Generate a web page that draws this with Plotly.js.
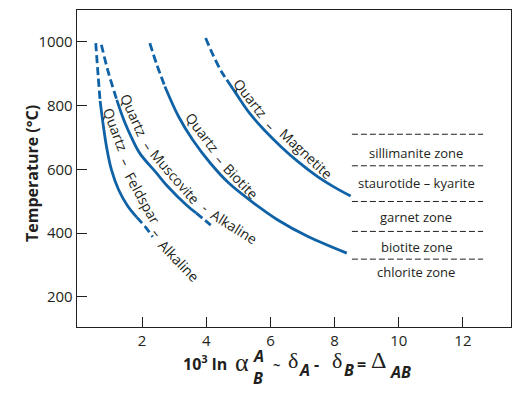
<!DOCTYPE html>
<html><head><meta charset="utf-8">
<script src="https://cdn.plot.ly/plotly-3.0.1.min.js"></script>
<style>html,body{margin:0;padding:0;background:#fff}#chart{width:525px;height:395px}</style>
</head><body><div id="chart"></div>
<script>
// ---- data ----
const feldsparX = [0.555, 0.627, 0.69, 0.78, 0.89, 1.045, 1.27, 1.55, 1.83, 2.10, 2.33];
const feldsparY = [996, 896, 815, 745, 671, 598, 535, 485, 450, 419, 388];
const feldsparSolid = [2, 8];

const muscoviteX = [0.73, 0.94, 1.21, 1.43, 1.66, 1.93, 2.45, 2.80, 3.38, 3.68, 3.91, 4.14];
const muscoviteY = [991, 907, 818, 755, 702, 650, 588, 546, 488, 463, 444, 425];
const muscoviteSolid = [2, 9];

const biotiteX = [2.24, 2.46, 2.71, 3.14, 3.58, 4.13, 4.71, 5.48, 6.23, 7.17, 8.38];
const biotiteY = [996, 928, 860, 765, 692, 619, 556, 494, 441, 389, 337];
const biotiteSolid = [2, 10];

const magnetiteX = [3.98, 4.21, 4.47, 4.64, 4.92, 5.35, 5.80, 6.33, 6.86, 7.47, 7.99, 8.50];
const magnetiteY = [1012, 959, 907, 881, 839, 776, 724, 671, 624, 577, 544, 516];
const magnetiteSolid = [3, 11];

const zoneBoundaries = [710, 611, 499, 405, 318];
const zoneLineX = [8.54, 12.63];
const zoneNames = ['sillimanite zone', 'staurotide – kyarite', 'garnet zone', 'biotite zone', 'chlorite zone'];
const zoneLabelY = [652, 556, 451, 357, 279];
const zoneLabelX = 10.55;

const xTicks = [2, 4, 6, 8, 10, 12];
const yTicks = [200, 400, 600, 800, 1000];

// ---- styling ----
const BLUE = '#0f62a6';
const INK = '#231f20';
const FONT = 'Open Sans, Noto Sans, sans-serif';
const SERIF = 'Liberation Serif, DejaVu Serif, serif';
const M = {l: 77, r: 14, t: 10, b: 68};
const W = 525, H = 395;
const PW = W - M.l - M.r, PH = H - M.t - M.b;
const px2x = px => (px - M.l) / PW;
const py2y = py => (H - M.b - py) / PH;

const traces = [];
function addCurve(X, Y, solid) {
  const seg = (a, b, dash) => {
    if (b <= a) return;
    traces.push({
      type: 'scatter', mode: 'lines',
      x: X.slice(a, b + 1), y: Y.slice(a, b + 1),
      line: {color: BLUE, width: 2.8, dash: dash, shape: 'spline', smoothing: 1},
      hoverinfo: 'skip', showlegend: false
    });
  };
  seg(0, solid[0], '8px,4px');
  if (solid[1] < X.length - 1) seg(solid[1], X.length - 1, '8px,4px');
  seg(solid[0], solid[1], 'solid');
}
addCurve(feldsparX, feldsparY, feldsparSolid);
addCurve(muscoviteX, muscoviteY, muscoviteSolid);
addCurve(biotiteX, biotiteY, biotiteSolid);
addCurve(magnetiteX, magnetiteY, magnetiteSolid);

zoneBoundaries.forEach(v => {
  traces.push({
    type: 'scatter', mode: 'lines', x: zoneLineX, y: [v, v],
    line: {color: INK, width: 1, dash: '6px,3px'}, hoverinfo: 'skip', showlegend: false
  });
});

const annotations = [];
zoneNames.forEach((n, i) => {
  annotations.push({x: zoneLabelX, y: zoneLabelY[i], xref: 'x', yref: 'y', text: n,
    showarrow: false, font: {family: FONT, size: 13, color: INK}, xanchor: 'center', yanchor: 'middle'});
});

// curve labels: [text, px, py, angle]
const curveLabels = [
  ['Quartz', 116, 129, 69], ['–', 126, 161, 65], ['Feldspar', 142.5, 197.5, 61], ['–', 157, 232, 52], ['Alkaline', 179, 260, 46],
  ['Quartz', 134.5, 115, 66], ['–', 148, 145.5, 58], ['Muscovite', 175, 176.5, 49], ['-', 206, 207, 40], ['Alkaline', 234, 226, 32],
  ['Quartz', 202.5, 132.5, 53], ['–', 220.5, 159, 49], ['Biotite', 241.5, 181, 46],
  ['Quartz', 250.8, 98.5, 52], ['–', 270.5, 125.5, 47], ['Magnetite', 306, 154, 43]
];
curveLabels.forEach(([t, px, py, a]) => {
  annotations.push({x: px2x(px), y: py2y(py), xref: 'paper', yref: 'paper', text: t, textangle: a,
    showarrow: false, font: {family: FONT, size: 14, color: INK}, xanchor: 'center', yanchor: 'middle'});
});

// y-axis title
annotations.push({x: px2x(32), y: py2y(174), xref: 'paper', yref: 'paper', text: '<b>Temperature (°C)</b>',
  textangle: -90, showarrow: false, font: {family: FONT, size: 16, color: INK}, xanchor: 'center', yanchor: 'middle'});

// x-axis title pieces: [text, px, py, size, family]
const xt = [
  ['<b>10<sup>3</sup> ln</b>', 205, 363, 16, FONT],
  ['α', 241.7, 362, 26, SERIF],
  ['<b><i>A</i></b>', 258.3, 356, 16, FONT],
  ['<b><i>B</i></b>', 258.3, 378, 16, FONT],
  ['<b>~</b>', 276, 365, 13, FONT],
  ['δ', 293, 360, 22, SERIF],
  ['<b><i>A</i></b>', 304.5, 370, 16, FONT],
  ['<b>-</b>', 316.7, 364, 16, FONT],
  ['δ', 336.7, 360, 22, SERIF],
  ['<b><i>B</i></b>', 348.5, 370, 16, FONT],
  ['<b>=</b>', 361.7, 364, 16, FONT],
  ['Δ', 378, 360, 24, SERIF],
  ['<b><i>AB</i></b>', 400, 372, 16, FONT]
];
xt.forEach(([t, px, py, s, f]) => {
  annotations.push({x: px2x(px), y: py2y(py), xref: 'paper', yref: 'paper', text: t,
    showarrow: false, font: {family: f, size: s, color: INK}, xanchor: 'center', yanchor: 'middle'});
});

const axisCommon = {
  showline: true, mirror: true, linecolor: INK, linewidth: 1.3,
  ticks: 'inside', ticklen: 10, tickwidth: 1, tickcolor: INK,
  showgrid: false, zeroline: false,
  tickfont: {family: FONT, size: 15, color: INK}
};

const layout = {
  width: W, height: H, margin: M,
  paper_bgcolor: '#fff', plot_bgcolor: '#fff',
  showlegend: false,
  xaxis: Object.assign({}, axisCommon, {range: [-0.03, 13.5], tickvals: xTicks, ticktext: xTicks.map(String)}),
  yaxis: Object.assign({}, axisCommon, {range: [105, 1100], tickvals: yTicks, ticktext: yTicks.map(String)}),
  annotations: annotations
};

Plotly.newPlot('chart', traces, layout, {displayModeBar: false, staticPlot: true});
</script>
</body></html>
